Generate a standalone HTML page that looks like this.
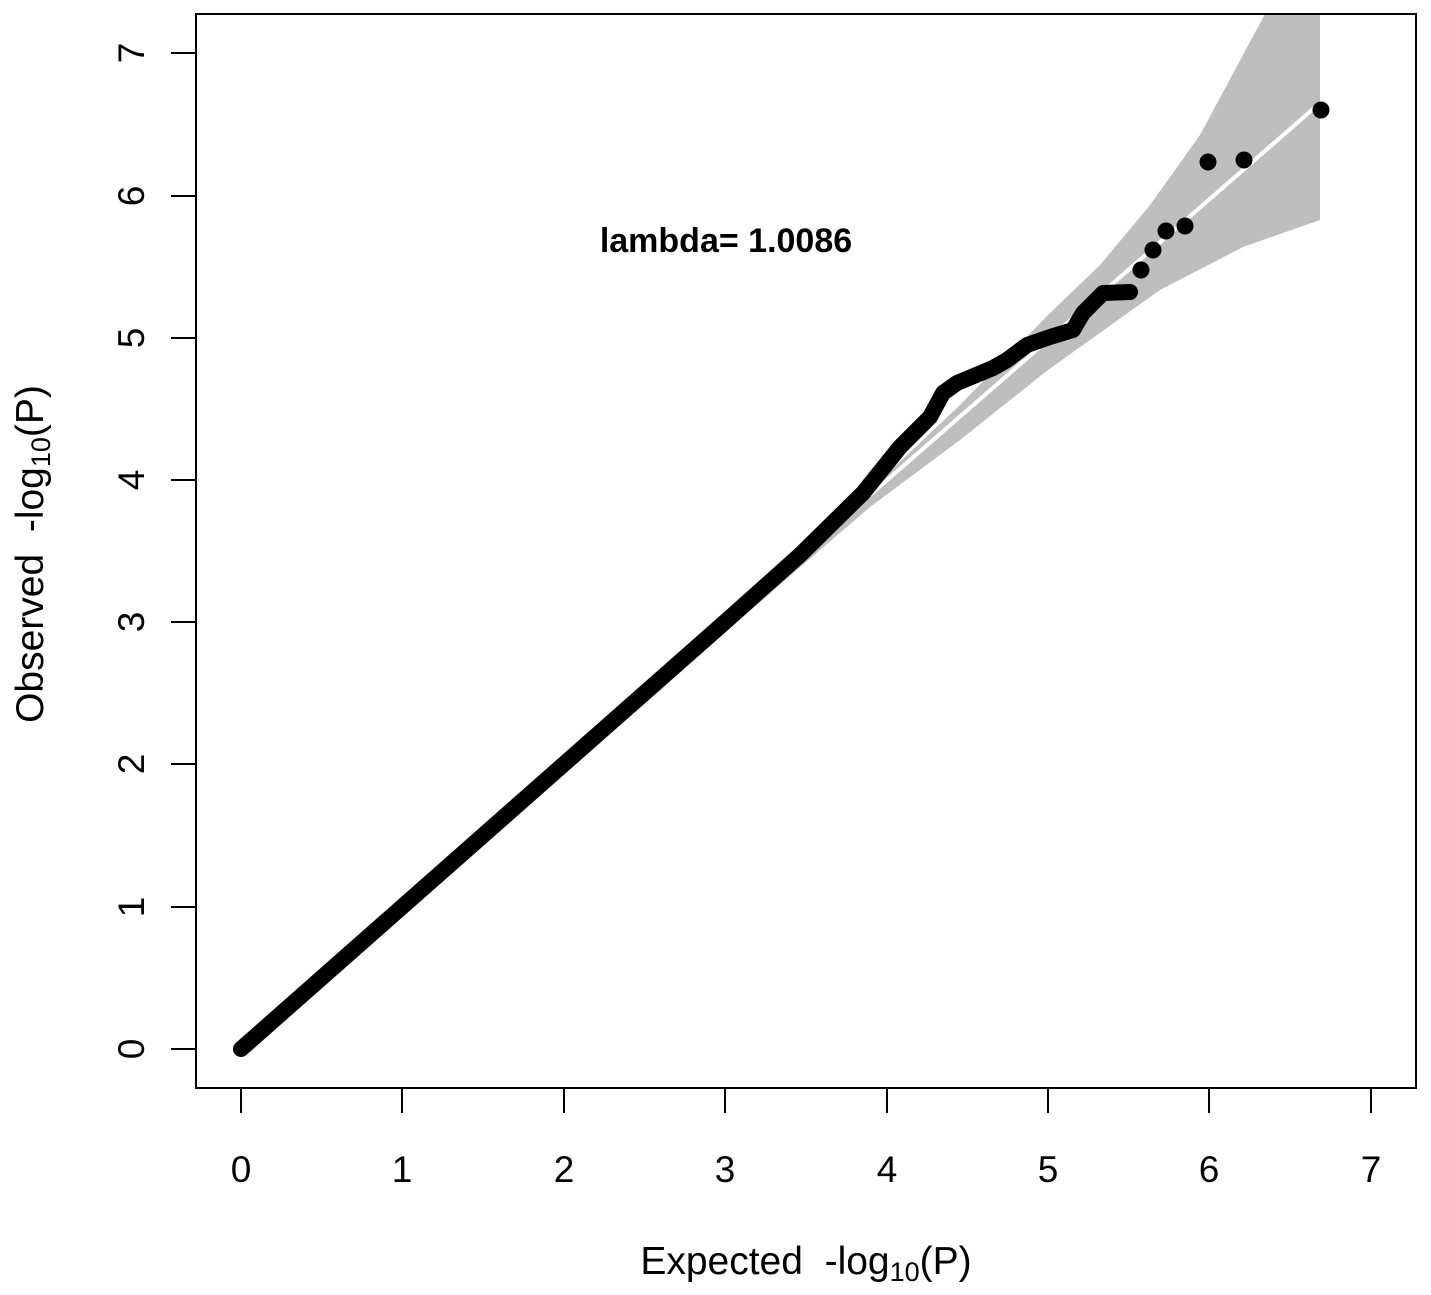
<!DOCTYPE html>
<html><head><style>body{margin:0;background:#fff}svg{display:block}text{font-family:"Liberation Sans",sans-serif;fill:#000;white-space:pre}</style></head><body>
<svg width="1431" height="1295" viewBox="0 0 1431 1295">
<path d="M241,1049 L870,490 L960,405 L1048,315 L1100,265 L1150,205 L1200,135 L1265,14 L1320,14 L1320,220 L1243,247 L1160,290 L1048,370 L960,440 L870,507 Z" fill="#bebebe"/>
<line x1="870" y1="495" x2="1320" y2="103" stroke="#fff" stroke-width="4"/>
<polyline points="241,1049 725,622 800,555 863,493 900,447 930,417 943,393 957,383 993,368 1007,360 1027,345 1050,337 1073,330 1083,313 1103,293 1130,292" fill="none" stroke="#000" stroke-width="16" stroke-linecap="round" stroke-linejoin="round"/>
<g fill="#000"><circle cx="1141" cy="270" r="8.5"/><circle cx="1153" cy="250" r="8.5"/><circle cx="1166" cy="231" r="8.5"/><circle cx="1185" cy="226" r="8.5"/><circle cx="1208" cy="162" r="8.5"/><circle cx="1244" cy="160" r="8.5"/><circle cx="1321" cy="110" r="8.5"/></g>
<rect x="196" y="14" width="1220" height="1074" fill="none" stroke="#000" stroke-width="2"/>
<g stroke="#000" stroke-width="2">
<line x1="241" y1="1088" x2="241" y2="1113"/><line x1="402" y1="1088" x2="402" y2="1113"/><line x1="564" y1="1088" x2="564" y2="1113"/><line x1="725" y1="1088" x2="725" y2="1113"/><line x1="887" y1="1088" x2="887" y2="1113"/><line x1="1048" y1="1088" x2="1048" y2="1113"/><line x1="1209" y1="1088" x2="1209" y2="1113"/><line x1="1371" y1="1088" x2="1371" y2="1113"/>
<line x1="171" y1="1049" x2="196" y2="1049"/><line x1="171" y1="907" x2="196" y2="907"/><line x1="171" y1="764" x2="196" y2="764"/><line x1="171" y1="622" x2="196" y2="622"/><line x1="171" y1="480" x2="196" y2="480"/><line x1="171" y1="338" x2="196" y2="338"/><line x1="171" y1="196" x2="196" y2="196"/><line x1="171" y1="53" x2="196" y2="53"/>
</g>
<g font-size="37" text-anchor="middle">
<text x="241" y="1182">0</text><text x="402" y="1182">1</text><text x="564" y="1182">2</text><text x="725" y="1182">3</text><text x="887" y="1182">4</text><text x="1048" y="1182">5</text><text x="1209" y="1182">6</text><text x="1371" y="1182">7</text>
<text transform="translate(144,1049) rotate(-90)">0</text><text transform="translate(144,907) rotate(-90)">1</text><text transform="translate(144,764) rotate(-90)">2</text><text transform="translate(144,622) rotate(-90)">3</text><text transform="translate(144,480) rotate(-90)">4</text><text transform="translate(144,338) rotate(-90)">5</text><text transform="translate(144,196) rotate(-90)">6</text><text transform="translate(144,53) rotate(-90)">7</text>
</g>
<g font-size="39" text-anchor="middle">
<text x="806" y="1274" xml:space="preserve">Expected  -log<tspan font-size="27" dy="7">10</tspan><tspan dy="-7">(P)</tspan></text>
<text transform="translate(43,554) rotate(-90)" xml:space="preserve">Observed  -log<tspan font-size="27" dy="7">10</tspan><tspan dy="-7">(P)</tspan></text>
</g>
<text x="726" y="252" font-size="34" font-weight="bold" text-anchor="middle">lambda= 1.0086</text>
</svg>
</body></html>
